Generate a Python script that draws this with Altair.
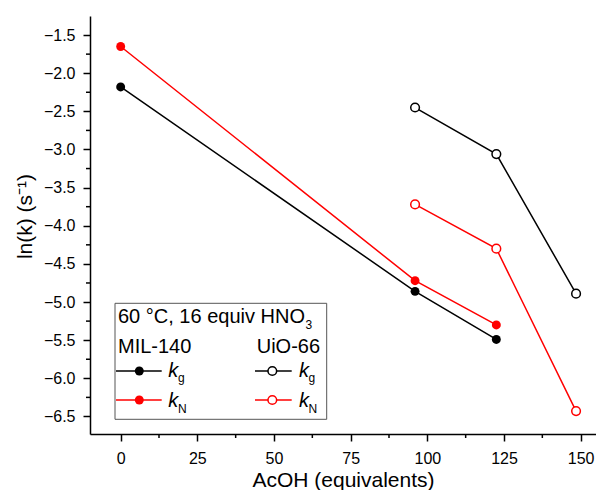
import altair as alt
import pandas as pd

# ---- data ----
acoh_mil = [0, 96, 122.5]
acoh_uio = [96, 122.5, 148.5]
mil_kg = [-2.18, -4.86, -5.49]
mil_kn = [-1.65, -4.72, -5.30]
uio_kg = [-2.45, -3.06, -4.89]
uio_kn = [-3.72, -4.30, -6.43]

x_major = [0, 25, 50, 75, 100, 125, 150]
x_minor = [12.5, 37.5, 62.5, 87.5, 112.5, 137.5]
y_major = [-1.5, -2.0, -2.5, -3.0, -3.5, -4.0, -4.5, -5.0, -5.5, -6.0, -6.5]
y_minor = [-1.75, -2.25, -2.75, -3.25, -3.75, -4.25, -4.75, -5.25, -5.75, -6.25]

rows = []
for mat, xs, kg, kn in [("MIL-140", acoh_mil, mil_kg, mil_kn),
                        ("UiO-66", acoh_uio, uio_kg, uio_kn)]:
    for const, ys in [("kg", kg), ("kN", kn)]:
        for xv, yv in zip(xs, ys):
            rows.append({"acoh": xv, "lnk": yv, "material": mat,
                         "const": const, "series": mat + " " + const})
df = pd.DataFrame(rows)

FONT = "Liberation Sans"
W, H = 506, 418
xscale = alt.Scale(domain=[-10, 155.0], nice=False, zero=False)
yscale = alt.Scale(domain=[-6.73, -1.25], nice=False, zero=False)
cscale = alt.Scale(domain=["kg", "kN"], range=["#000000", "#ff0000"])

xaxis = alt.Axis(values=x_major, title="AcOH (equivalents)", format="d",
                 labelPadding=9, titlePadding=3)
yaxis = alt.Axis(values=y_major, format=".1f", title="ln(k) (s⁻¹)",
                 labelPadding=8, titlePadding=8, titleY=200)
X = alt.X("acoh:Q", scale=xscale, axis=xaxis)
Y = alt.Y("lnk:Q", scale=yscale, axis=yaxis)
C = alt.Color("const:N", scale=cscale, legend=None)

base = alt.Chart(df)
lines = base.mark_line(strokeWidth=1.5).encode(x=X, y=Y, color=C, detail="series:N")
filled_pts = base.transform_filter(alt.datum.material == "MIL-140").mark_point(
    filled=True, shape="circle", size=80, opacity=1).encode(x=X, y=Y, color=C)
open_pts = base.transform_filter(alt.datum.material == "UiO-66").mark_point(
    filled=False, fill="white", fillOpacity=1, shape="circle", size=75,
    strokeWidth=1.5, opacity=1).encode(x=X, y=Y, color=C)

xminor = alt.Chart(pd.DataFrame({"acoh": x_minor})).mark_rule(
    color="black", strokeWidth=1.5).encode(
    x=X, y=alt.value(H), y2=alt.value(H + 4))
yminor = alt.Chart(pd.DataFrame({"lnk": y_minor})).mark_rule(
    color="black", strokeWidth=1.5).encode(
    y=Y, x=alt.value(-4), x2=alt.value(0))

one = alt.Data(values=[{"a": 1}])


def txt(s, x, y, size=20, style="normal"):
    return alt.Chart(one).mark_text(
        text=s, align="left", baseline="alphabetic", font=FONT,
        fontSize=size, fontStyle=style, color="black").encode(
        x=alt.value(x), y=alt.value(y))


def lrule(x1, x2, y, col):
    return alt.Chart(one).mark_rule(color=col, strokeWidth=1.5).encode(
        x=alt.value(x1), x2=alt.value(x2), y=alt.value(y))


def lpt(x, y, col, filled):
    if filled:
        m = alt.Chart(one).mark_point(filled=True, shape="circle", size=80,
                                      color=col, opacity=1)
    else:
        m = alt.Chart(one).mark_point(filled=False, shape="circle", size=75,
                                      color=col, fill="white", fillOpacity=1,
                                      strokeWidth=1.5, opacity=1)
    return m.encode(x=alt.value(x), y=alt.value(y))


box = alt.Chart(one).mark_rect(fill="white", stroke="#555555", strokeWidth=1).encode(
    x=alt.value(25), x2=alt.value(236.7), y=alt.value(287.3), y2=alt.value(403.3))

legend_layers = [
    box,
    txt("60 °C, 16 equiv HNO", 28, 306.7),
    txt("3", 215.5, 313.3, size=12),
    txt("MIL-140", 28, 337.3),
    txt("UiO-66", 166.7, 337.3),
    lrule(26, 71.7, 355, "#000000"), lpt(49.3, 355, "#000000", True),
    txt("k", 78.3, 361.3, style="italic"), txt("g", 88, 366, size=12),
    lrule(165, 201.7, 355, "#000000"), lpt(182.3, 355, "#000000", False),
    txt("k", 209, 361.3, style="italic"), txt("g", 218.5, 366, size=12),
    lrule(26, 71.7, 384, "#ff0000"), lpt(49.3, 384, "#ff0000", True),
    txt("k", 78.3, 390.7, style="italic"), txt("N", 88, 397.3, size=12),
    lrule(165, 201.7, 384, "#ff0000"), lpt(182.3, 384, "#ff0000", False),
    txt("k", 209, 390.7, style="italic"), txt("N", 218.5, 397.3, size=12),
]

chart = alt.layer(lines, filled_pts, open_pts, xminor, yminor, *legend_layers).properties(
    width=W, height=H,
    autosize=alt.AutoSizeParams(type="none"),
    padding={"left": 82, "top": 8, "right": 0, "bottom": 56},
).configure_view(stroke=None).configure_axis(
    grid=False, domainColor="black", domainWidth=1.5, tickColor="black",
    tickWidth=1.5, tickSize=7, labelFont=FONT, labelFontSize=16,
    labelColor="black", titleFont=FONT, titleFontSize=21,
    titleFontWeight="normal", titleColor="black",
).configure_text(font=FONT)

chart.save("out.html", embed_options={"renderer": "svg", "actions": False})
